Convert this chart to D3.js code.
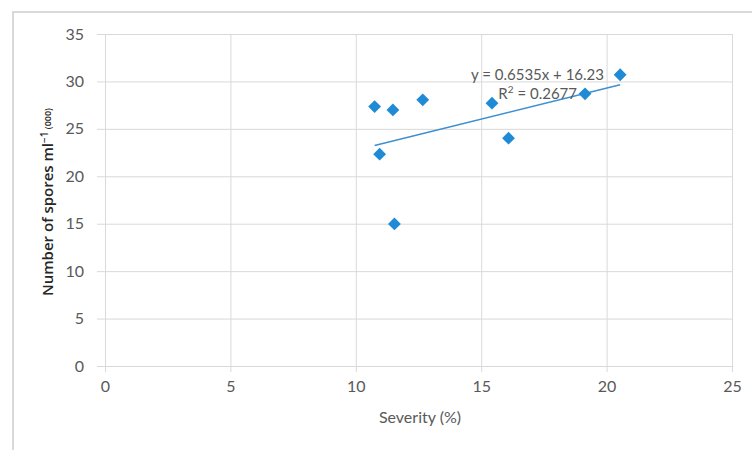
<!DOCTYPE html>
<html><head><meta charset="utf-8">
<script src="https://cdn.jsdelivr.net/npm/d3@7"></script>
<style>body{margin:0;background:#fff}svg{display:block}</style>
</head><body>
<svg id="c" width="752" height="450"></svg>
<script>
const severity = [10.75, 10.95, 11.48, 11.54, 12.67, 15.43, 16.09, 19.14, 20.54];
const spores   = [27.35, 22.33, 27.0, 14.98, 28.06, 27.71, 24.02, 28.69, 30.7];
const xTicks = [0, 5, 10, 15, 20, 25];
const yTicks = [0, 5, 10, 15, 20, 25, 30, 35];
const slope = 0.6535, intercept = 16.23, r2 = "0.2677";

const svg = d3.select("#c");
const font = "Lato, 'Open Sans', sans-serif";
const gray = "#595959";

// outer frame
svg.append("rect").attr("x", 13).attr("y", 12).attr("width", 760).attr("height", 460)
  .attr("fill", "none").attr("stroke", "#d9d9d9").attr("stroke-width", 2);

const x = d3.scaleLinear().domain([0, 25]).range([105, 732]);
const y = d3.scaleLinear().domain([0, 35]).range([366, 34]);

// gridlines via axes
const gy = svg.append("g").attr("transform", "translate(732,0)")
  .call(d3.axisLeft(y).tickValues(yTicks).tickSize(732 - 97).tickFormat(""));
gy.select(".domain").remove();
gy.selectAll("line").attr("stroke", "#d9d9d9").attr("stroke-width", 1);

const gx = svg.append("g").attr("transform", "translate(0,34)")
  .call(d3.axisBottom(x).tickValues(xTicks).tickSize(366 - 34 + 6).tickFormat(""));
gx.select(".domain").remove();
gx.selectAll("line").attr("stroke", "#d9d9d9").attr("stroke-width", 1);

// tick labels
const yl = svg.append("g").attr("transform", "translate(105,0)")
  .call(d3.axisLeft(y).tickValues(yTicks).tickSize(0).tickPadding(21));
yl.select(".domain").remove();
yl.selectAll("text").attr("font-family", font).attr("font-size", 16).attr("fill", gray);

const xl = svg.append("g").attr("transform", "translate(0,366)")
  .call(d3.axisBottom(x).tickValues(xTicks).tickSize(0).tickPadding(15));
xl.select(".domain").remove();
xl.selectAll("text").attr("font-family", font).attr("font-size", 16).attr("fill", gray);

// axis titles
svg.append("text").attr("x", 420).attr("y", 423).attr("text-anchor", "middle")
  .attr("font-family", font).attr("font-size", 16).attr("fill", gray).text("Severity (%)");

const yt = svg.append("text").attr("transform", "translate(53,202) rotate(-90)")
  .attr("text-anchor", "middle").attr("font-family", "'Open Sans', sans-serif")
  .attr("font-size", 15).attr("font-weight", 600).attr("fill", "#262626");
yt.append("tspan").text("Number of spores ml");
yt.append("tspan").attr("font-size", 10).attr("dy", -5).text("−1");
yt.append("tspan").attr("font-size", 9).attr("dy", 3).text(" (000)");

// trendline
const xmin = d3.min(severity), xmax = d3.max(severity);
svg.append("line")
  .attr("x1", x(xmin)).attr("y1", y(slope * xmin + intercept))
  .attr("x2", x(xmax)).attr("y2", y(slope * xmax + intercept))
  .attr("stroke", "#3d8fd0").attr("stroke-width", 1.5);

// equation
svg.append("text").attr("x", 604).attr("y", 80).attr("text-anchor", "end")
  .attr("font-family", font).attr("font-size", 15).attr("fill", gray)
  .text(`y = ${slope}x + ${intercept}`);
const rt = svg.append("text").attr("x", 577).attr("y", 99).attr("text-anchor", "end")
  .attr("font-family", font).attr("font-size", 15).attr("fill", gray);
rt.append("tspan").text("R");
rt.append("tspan").attr("font-size", 10).attr("dy", -6).text("2");
rt.append("tspan").attr("dy", 6).text(` = ${r2}`);

// markers
svg.append("g").selectAll("path").data(severity.map((s, i) => [s, spores[i]]))
  .join("path")
  .attr("transform", d => `translate(${x(d[0])},${y(d[1])})`)
  .attr("d", d3.symbol(d3.symbolDiamond2, 105))
  .attr("fill", "#1f8ad6");
</script>
</body></html>
